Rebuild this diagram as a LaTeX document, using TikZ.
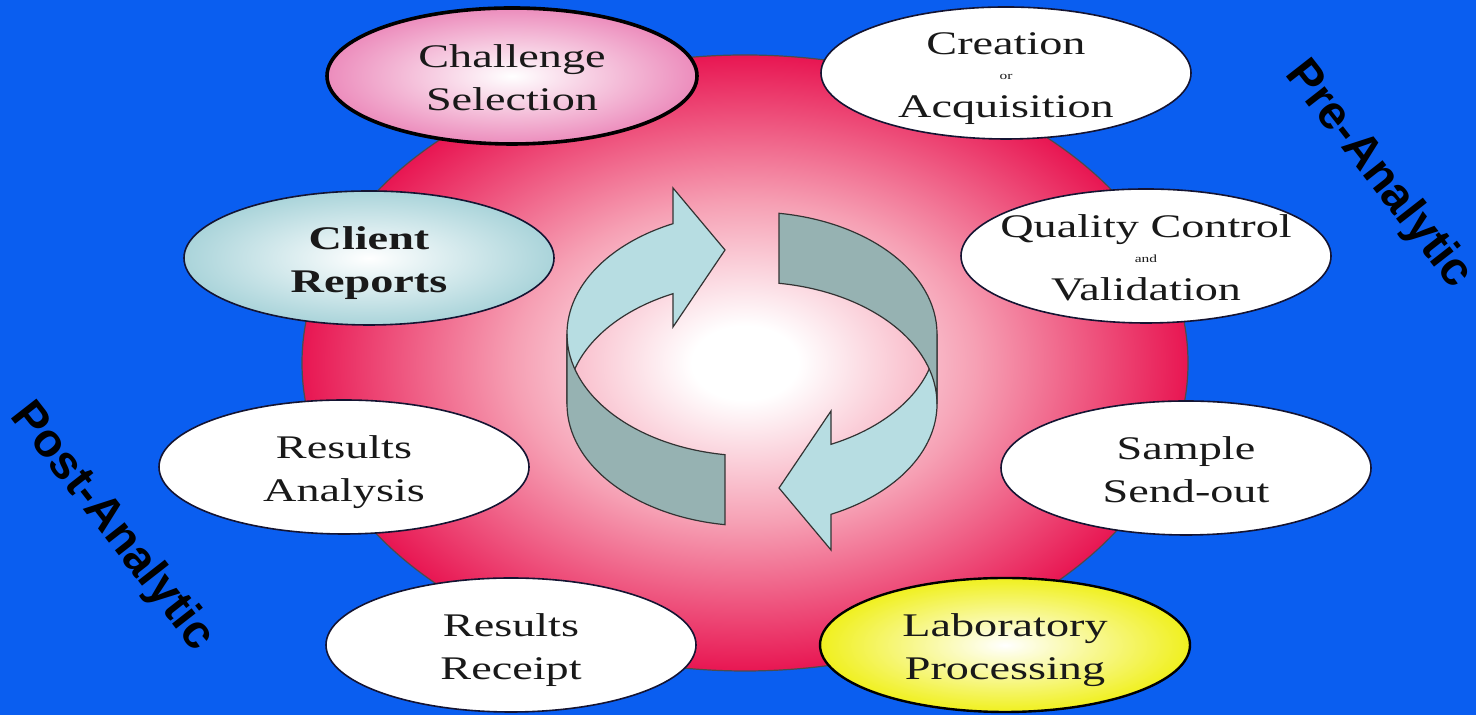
\documentclass[tikz,border=0pt]{standalone}
\usepackage{fontspec}
\setmainfont{Liberation Serif}
\setsansfont{Liberation Sans}
\usepackage{graphicx}
\definecolor{bgblue}{RGB}{10,94,240}
\definecolor{ballred}{RGB}{232,22,82}
\definecolor{ballpink}{RGB}{246,160,180}
\definecolor{chalpink}{RGB}{236,140,188}
\definecolor{clieblue}{RGB}{170,212,218}
\definecolor{labyellow}{RGB}{240,240,30}
\definecolor{ribbonlight}{RGB}{183,221,226}
\definecolor{ribbondark}{RGB}{150,178,178}
\definecolor{ovalline}{RGB}{20,20,50}
\definecolor{inkgray}{RGB}{25,25,25}
\pgfdeclareradialshading{ballshade}{\pgfpoint{0bp}{0bp}}{color(0bp)=(white); color(3bp)=(white); color(13bp)=(ballpink); color(25bp)=(ballred); color(50bp)=(ballred)}
\newcommand{\ovaltext}[1]{\scalebox{1.4}[1]{\begin{tabular}{@{}c@{}}#1\end{tabular}}}

\begin{document}
\begin{tikzpicture}[x=0.5pt, y=0.5pt,
    oval/.style={draw=ovalline, line width=0.8pt},
    ovallabel/.style={font=\fontsize{16.5}{21.5}\selectfont, text=inkgray, inner sep=0pt, yshift=-2pt},
    side/.style={font=\sffamily\bfseries\fontsize{23.5}{26}\selectfont, rotate=-52},
    ribbon/.style={draw=black!80, line width=0.6pt}]
        % background
        \useasboundingbox (0,0) rectangle (1476,715);
        \fill[bgblue] (0,0) rectangle (1476,715);

        % the ball
        \shadedraw[shading=ballshade, draw=black!70, line width=0.6pt] (745,352) ellipse (221.5pt and 154pt);

        % the two arrows
        \foreach \turn in {0,180} {
            \begin{scope}[shift={(752,346)}, rotate=\turn]
                \filldraw[ribbon, fill=ribbonlight] (-79.07,145.3) arc[start angle=115.3, end angle=180, x radius=92.5pt, y radius=61pt]
                    -- (-185,-35) arc[start angle=180, end angle=115.3, x radius=92.5pt, y radius=61pt]
                    -- (-79,42) -- (-27,119) -- (-79,181) -- cycle;
                \filldraw[ribbon, fill=ribbondark] (-185,35) arc[start angle=180, end angle=261.6, x radius=92.5pt, y radius=61pt]
                    -- (-27.03,-155.69) arc[start angle=261.6, end angle=180, x radius=92.5pt, y radius=61pt] -- cycle;
            \end{scope}
        }

        % the ovals
        \shadedraw[oval, inner color=white, outer color=chalpink, draw=black, line width=1.8pt] (512,639) ellipse (92.5pt and 34pt);
        \filldraw[oval, fill=white] (1006,642) ellipse (92.5pt and 33pt);
        \shadedraw[oval, inner color=white, outer color=clieblue] (369,457) ellipse (92.5pt and 33.5pt);
        \filldraw[oval, fill=white] (1146,459) ellipse (92.5pt and 33.5pt);
        \filldraw[oval, fill=white] (344,248) ellipse (92.5pt and 33.5pt);
        \filldraw[oval, fill=white] (1186,247) ellipse (92.5pt and 33.5pt);
        \filldraw[oval, fill=white] (511,70) ellipse (92.5pt and 33.5pt);
        \shadedraw[oval, inner color=white, outer color=labyellow, draw=black, line width=1.2pt] (1005,70) ellipse (92.5pt and 33.5pt);

        % steps
        \node[ovallabel] (chal) at (512,639) {\ovaltext{Challenge\\Selection}};
        \node[ovallabel] (crea) at (1006,642) {\ovaltext{Creation\\[-9pt]{\fontsize{5.5}{6}\selectfont or}\\[-2.5pt]Acquisition}};
        \node[ovallabel] (clie) at (369,457) {\ovaltext{\bfseries Client\\\bfseries Reports}};
        \node[ovallabel] (qual) at (1146,459) {\ovaltext{Quality Control\\[-9pt]{\fontsize{5.5}{6}\selectfont and}\\[-2.5pt]Validation}};
        \node[ovallabel] (ranal) at (344,248) {\ovaltext{Results\\Analysis}};
        \node[ovallabel] (samp) at (1186,247) {\ovaltext{Sample\\Send-out}};
        \node[ovallabel] (rrec) at (511,70) {\ovaltext{Results\\Receipt}};
        \node[ovallabel] (lab) at (1005,70) {\ovaltext{Laboratory\\Processing}};

        % phases
        \node[side] (pre) at (1378,540) {Pre-Analytic};
        \node[side] (post) at (112,188) {Post-Analytic};
\end{tikzpicture}
\end{document}
